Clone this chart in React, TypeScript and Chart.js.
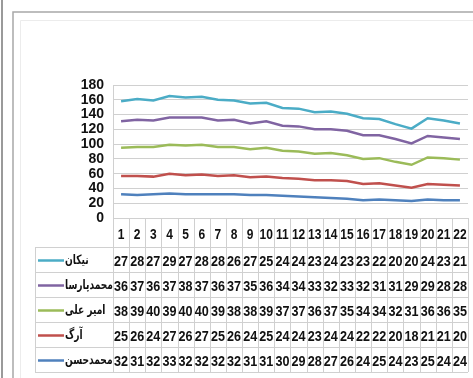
import React, { useEffect, useRef } from "react";
import { Chart, registerables } from "chart.js";

Chart.register(...registerables);

// ---- data ----
const categories = ["1", "2", "3", "4", "5", "6", "7", "8", "9", "10", "11", "12", "13", "14", "15", "16", "17", "18", "19", "20", "21", "22"];

const nikan = [27, 28, 27, 29, 27, 28, 28, 26, 27, 25, 24, 24, 23, 24, 23, 23, 22, 20, 20, 24, 23, 21];
const mohammadParsa = [36, 37, 36, 37, 38, 37, 36, 37, 35, 36, 34, 34, 33, 32, 33, 32, 31, 31, 29, 29, 28, 28];
const amirAli = [38, 39, 40, 39, 40, 40, 39, 38, 38, 39, 37, 37, 36, 37, 35, 34, 34, 32, 31, 36, 36, 35];
const arg = [25, 26, 24, 27, 26, 27, 25, 26, 24, 25, 24, 24, 23, 24, 24, 22, 22, 20, 18, 21, 21, 20];
const mohammadHasan = [32, 31, 32, 33, 32, 32, 32, 32, 31, 31, 30, 29, 28, 27, 26, 24, 25, 24, 23, 25, 24, 24];

// stacking order: bottom first
const seriesNames = ["محمدحسن", "آرگ", "امیر علی", "محمدپارسا", "نیکان"];
const seriesValues = [mohammadHasan, arg, amirAli, mohammadParsa, nikan];
const seriesColors = ["#4F81BD", "#C0504D", "#9BBB59", "#8064A2", "#4BACC6"];

const yMin = 0;
const yMax = 180;
const yStep = 20;

const NUM_FONT = "'Liberation Sans', Arial, sans-serif";
const GRID = "#d0d0d0";

// draw text squeezed horizontally (condensed look)
function squeezed(ctx: any, text: string, x: number, y: number, sx: number, align: string) {
  ctx.save();
  ctx.translate(x, y);
  ctx.scale(sx, 1);
  ctx.textAlign = align;
  ctx.fillText(text, 0, 0);
  ctx.restore();
}

const tablePlugin = {
  id: "dataTable",
  beforeDraw(chart: any) {
    const ctx = chart.ctx;
    ctx.save();
    ctx.fillStyle = "#ffffff";
    ctx.fillRect(0, 0, chart.width, chart.height);
    ctx.strokeStyle = "#9a9a9a";
    ctx.lineWidth = 2;
    ctx.beginPath();
    ctx.moveTo(2, 0);
    ctx.lineTo(2, chart.height);
    ctx.stroke();
    ctx.strokeStyle = "#a8a8a8";
    ctx.lineWidth = 1.5;
    ctx.beginPath();
    ctx.moveTo(13, chart.height);
    ctx.lineTo(13, 12);
    ctx.lineTo(chart.width, 12);
    ctx.stroke();
    ctx.strokeStyle = "#ececec";
    ctx.lineWidth = 1;
    ctx.beginPath();
    ctx.moveTo(20.5, chart.height);
    ctx.lineTo(20.5, 20.5);
    ctx.lineTo(chart.width, 20.5);
    ctx.stroke();
    ctx.restore();
  },
  afterDraw(chart: any) {
    const ctx = chart.ctx;
    const xs = chart.scales.x;
    const area = chart.chartArea;
    const n = categories.length;
    const half = (xs.getPixelForValue(1) - xs.getPixelForValue(0)) / 2;
    const left = xs.getPixelForValue(0) - half;
    const right = xs.getPixelForValue(n - 1) + half;
    const headerTop = area.bottom;
    const rowTop = xs.bottom;
    const rowH = 25;
    const legendLeft = 35;
    const rows = seriesNames.length;
    const bottom = rowTop + rows * rowH;

    ctx.save();
    ctx.strokeStyle = GRID;
    ctx.lineWidth = 1;
    ctx.beginPath();
    for (let k = 0; k <= n; k++) {
      const px = Math.round(left + k * 2 * half) + 0.5;
      ctx.moveTo(px, headerTop);
      ctx.lineTo(px, bottom);
    }
    for (let i = 0; i <= rows; i++) {
      const py = Math.round(rowTop + i * rowH) + 0.5;
      ctx.moveTo(legendLeft, py);
      ctx.lineTo(right, py);
    }
    ctx.moveTo(legendLeft + 0.5, rowTop);
    ctx.lineTo(legendLeft + 0.5, bottom);
    ctx.stroke();

    ctx.fillStyle = "#111111";
    ctx.textBaseline = "middle";
    // header row: category labels
    ctx.font = "bold 15px " + NUM_FONT;
    const headerY = (headerTop + rowTop) / 2 + 2;
    for (let c = 0; c < n; c++) {
      squeezed(ctx, categories[c], xs.getPixelForValue(c), headerY, 0.8, "center");
    }

    for (let r = 0; r < rows; r++) {
      const si = rows - 1 - r;
      const cy = rowTop + r * rowH + rowH / 2 + 1;
      ctx.strokeStyle = seriesColors[si];
      ctx.lineWidth = 2.5;
      ctx.beginPath();
      ctx.moveTo(38, cy);
      ctx.lineTo(64, cy);
      ctx.stroke();
      ctx.fillStyle = "#111111";
      ctx.font = "bold 13px 'DejaVu Sans', sans-serif";
      squeezed(ctx, seriesNames[si], 65, cy, 0.7, "left");
      ctx.font = "bold 15px " + NUM_FONT;
      const vals = seriesValues[si];
      for (let c = 0; c < n; c++) {
        squeezed(ctx, String(vals[c]), xs.getPixelForValue(c), cy + 1, 0.84, "center");
      }
    }
    ctx.restore();
  },
};

export default function App() {
  const ref = useRef<HTMLCanvasElement | null>(null);

  useEffect(() => {
    if (!ref.current) return;
    const chart = new Chart(ref.current, {
      type: "line",
      data: {
        labels: categories,
        datasets: seriesValues.map((vals, i) => ({
          label: seriesNames[i],
          data: vals,
          borderColor: seriesColors[i],
          backgroundColor: seriesColors[i],
          borderWidth: 2.5,
          pointRadius: 0,
          tension: 0,
          fill: false,
        })),
      },
      options: {
        animation: false,
        responsive: false,
        maintainAspectRatio: false,
        layout: { padding: { left: 0, right: 5, top: 85, bottom: 131 } },
        plugins: {
          legend: { display: false },
          tooltip: { enabled: false },
          title: { display: false },
        },
        scales: {
          x: {
            offset: true,
            grid: { display: false, drawTicks: false },
            border: { display: false },
            ticks: { display: false },
            afterFit: (s: any) => {
              s.height = 29;
            },
          },
          y: {
            stacked: true,
            min: yMin,
            max: yMax,
            grid: { color: GRID, drawTicks: false, lineWidth: 1 },
            border: { display: true, color: GRID },
            ticks: {
              stepSize: yStep,
              autoSkip: false,
              color: "#111111",
              font: { family: NUM_FONT, size: 14, weight: "bold", lineHeight: 1 },
              padding: 9,
            },
            afterFit: (s: any) => {
              s.width = 113;
            },
          },
        },
      },
      plugins: [tablePlugin],
    });
    return () => chart.destroy();
  }, []);

  return (
    <div style={{ position: "absolute", left: 0, top: 0, width: 473, height: 378 }}>
      <canvas ref={ref} width={473} height={378} style={{ display: "block", width: 473, height: 378 }} />
    </div>
  );
}
